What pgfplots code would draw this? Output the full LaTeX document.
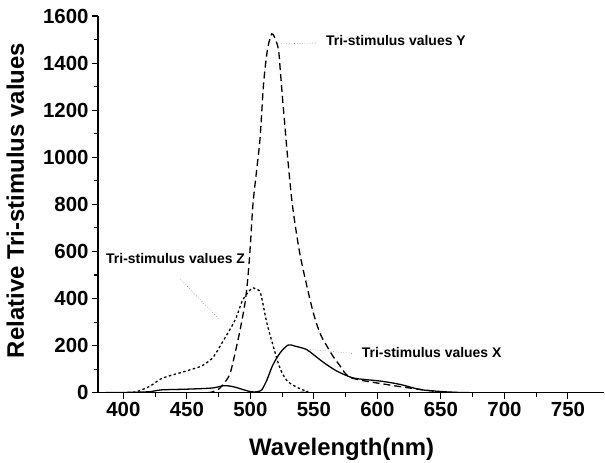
\documentclass[border=0pt]{standalone}
\usepackage{fontspec}
\setmainfont{Liberation Sans}
\usepackage{pgfplots}
\pgfplotsset{compat=1.18}
\begin{document}
\begin{tikzpicture}
\begin{axis}[
 at={(0,0)}, anchor=south west,
 scale only axis, width=505.5bp, height=376.7bp,
 xmin=380, xmax=778, ymin=0, ymax=1600,
 axis x line*=bottom, axis y line*=left,
 axis line style={line width=1.3pt},
 xtick={400,450,...,750}, ytick={0,200,...,1600},
 minor x tick num=1, minor y tick num=1,
 tick align=outside,
 major tick length=6bp, minor tick length=4bp,
 every tick/.style={line width=1.1pt, black},
 ticklabel style={font=\fontsize{20.5}{23}\selectfont\bfseries},
 /pgf/number format/assume math mode=true,
 /pgf/number format/1000 sep={},
 xlabel={Wavelength(nm)}, ylabel={Relative Tri-stimulus values},
 label style={font=\fontsize{24}{28}\selectfont\bfseries},
 xlabel style={at={(axis description cs:0.482,0)}, anchor=base, yshift=-62.3bp},
 ylabel style={at={(axis description cs:-0.1464,0.51)}, anchor=base},
]
\addplot[black, line width=1.3pt, smooth] coordinates {
(380,0) (400,1) (420,4) (430,12) (450,15) (470,20) (479,30) (486,26) (492,17) (498,7) (503,3) (507,6) (509,12) (513,54) (517,110) (521,150) (525,180) (530,203) (535,198) (544,184) (550,160) (558,127) (568,92) (580,64) (590,56) (603,49) (618,35) (633,14) (645,7) (660,2) (680,0) (778,0)
};
\addplot[black, line width=1.3pt, dash pattern=on 7pt off 4pt, smooth] coordinates {
(380,0) (450,0) (465,0) (470,3) (475,15) (480,45) (484,82) (488,170) (492,270) (496,390) (498.3,507) (500,630) (502,800) (505,950) (507.6,1081) (510.2,1300) (512.3,1413) (514.1,1477) (516.8,1524) (519,1510) (522,1460) (523.5,1371) (525.4,1243) (527.2,1130) (529.3,1000) (533,800) (538.6,600) (545,440) (550,330) (555,250) (560,200) (565,155) (570,118) (575,80) (580,62) (590,50) (600,41) (620,24) (635,13) (650,4) (670,0) (778,0)
};
\addplot[black, line width=1.3pt, dash pattern=on 2.5pt off 2.5pt, smooth] coordinates {
(380,0) (400,0) (410,4) (421,28) (430,60) (445,85) (450,93) (460,110) (465,125) (471,153) (479,224) (488,309) (494,394) (501,443) (504,440) (508,422) (513,295) (520,160) (524,95) (529,50) (536,25) (545,5) (555,0) (778,0)
};
\draw[gray, line width=0.6pt, dotted] (axis cs:520.2,1481) -- (axis cs:552.4,1485.6);
\draw[gray, line width=0.6pt, dotted] (axis cs:444.6,483) -- (axis cs:474.7,316);
\draw[gray, line width=0.6pt, dotted] (axis cs:546.9,184) -- (axis cs:579.8,167);
\node[anchor=west, inner sep=0pt, font=\fontsize{14}{16}\selectfont\bfseries] at (axis cs:559.5,1495) {Tri-stimulus values Y};
\node[anchor=west, inner sep=0pt, font=\fontsize{14}{16}\selectfont\bfseries] at (axis cs:386.3,571) {Tri-stimulus values Z};
\node[anchor=west, inner sep=0pt, font=\fontsize{14}{16}\selectfont\bfseries] at (axis cs:587.6,169) {Tri-stimulus values X};
\end{axis}
\pgfresetboundingbox
\path (-98bp,-70.3bp) rectangle (507bp,392.7bp);
\end{tikzpicture}
\end{document}
